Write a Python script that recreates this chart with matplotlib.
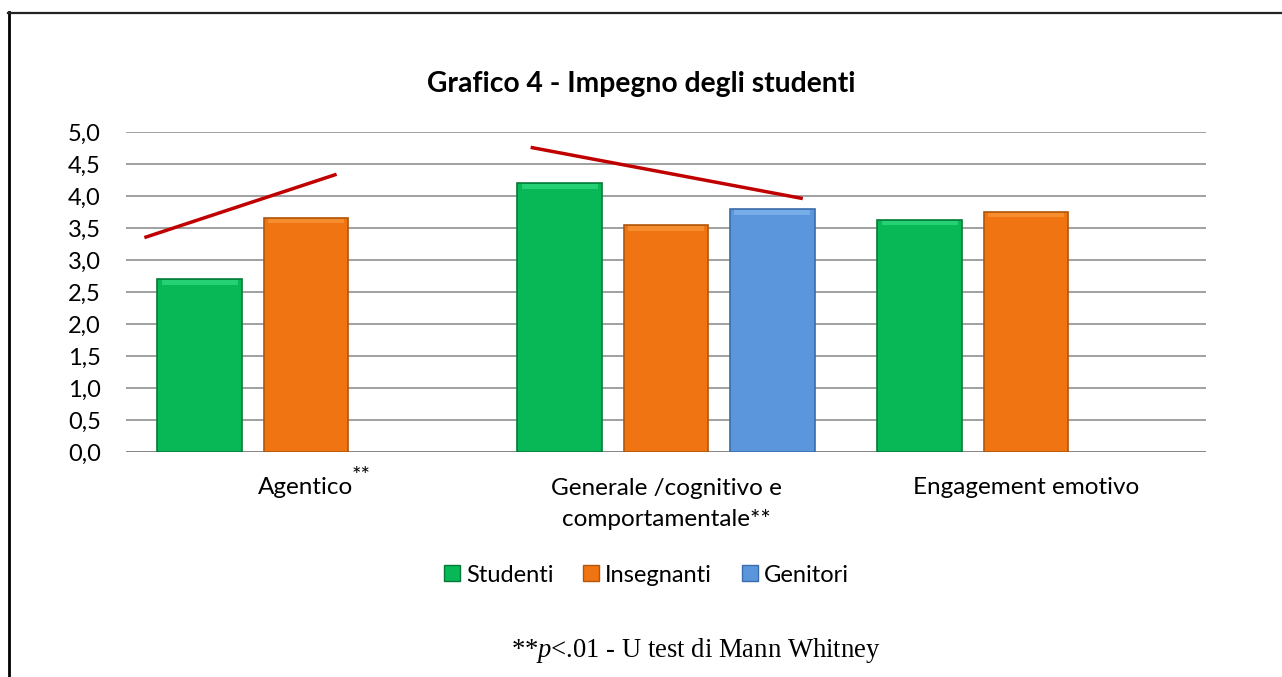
import matplotlib
matplotlib.use('Agg')
import matplotlib.pyplot as plt
import numpy as np
from matplotlib.patches import Patch
from matplotlib.lines import Line2D

# dati
categorie = ['Agentico', 'Generale /cognitivo e\ncomportamentale**', 'Engagement emotivo']
asterischi = ['**', '', '']
serie = ['Studenti', 'Insegnanti', 'Genitori']
studenti = [2.70, 4.20, 3.625]
insegnanti = [3.66, 3.54, 3.755]
genitori = [np.nan, 3.79, np.nan]
tick_y = [0.0, 0.5, 1.0, 1.5, 2.0, 2.5, 3.0, 3.5, 4.0, 4.5, 5.0]
tick_y_lab = ['0,0', '0,5', '1,0', '1,5', '2,0', '2,5', '3,0', '3,5', '4,0', '4,5', '5,0']

# linee rosse disegnate sopra (x in unita' di categoria)
linea1_x = [-0.449, 0.085]
linea1_y = [3.35, 4.34]
linea2_x = [0.624, 1.380]
linea2_y = [4.76, 3.96]

colori = ['#08b856', '#f07512', '#5b96dd']
bordi = ['#057a38', '#b0560b', '#3b6cab']
chiari = ['#3fe690', '#fba448', '#8fc2f2']

plt.rcParams['font.family'] = ['Lato', 'DejaVu Sans']
plt.rcParams['mathtext.fontset'] = 'custom'
plt.rcParams['mathtext.it'] = 'Liberation Serif:italic'
plt.rcParams['mathtext.rm'] = 'Liberation Serif'

fig = plt.figure(figsize=(12.82, 6.77), dpi=100)
ax = fig.add_axes([126/1282, 1 - 452/677, 1080/1282, 320/677])

x = np.arange(len(categorie))
larghezza = 0.236
passo = 0.295
valori = [studenti, insegnanti, genitori]
for i, vals in enumerate(valori):
    pos = x + (i - 1) * passo
    ax.bar(pos, vals, width=larghezza, color=colori[i],
           edgecolor=bordi[i], linewidth=1.2, zorder=3)
    # riflesso chiaro in cima (effetto smussato)
    v = np.array(vals)
    ax.bar(pos, np.full(3, 0.07), bottom=v - 0.085, width=larghezza * 0.9,
           color=chiari[i], alpha=0.55, linewidth=0, zorder=4)

ax.plot(linea1_x, linea1_y, color='#c00000', lw=2.5, zorder=5, solid_capstyle='butt')
ax.plot(linea2_x, linea2_y, color='#c00000', lw=2.5, zorder=5, solid_capstyle='butt')

ax.set_xlim(-0.5, 2.5)
ax.set_ylim(0, 5)
ax.set_yticks(tick_y)
ax.set_yticklabels(tick_y_lab, fontsize=17)
ax.tick_params(axis='y', length=0, pad=18)
ax.set_xticks([])
ax.grid(axis='y', color='#868686', lw=1.1, zorder=0)
ax.set_axisbelow(True)
for s in ax.spines.values():
    s.set_visible(False)
ax.axhline(0, color='#868686', lw=1.3, zorder=2)

# etichette di categoria
for i, cat in enumerate(categorie):
    righe = cat.count('\n')
    t = ax.annotate(cat, xy=(x[i], 0), xycoords=('data', 'axes fraction'),
                    xytext=(0, -30.5 - 23 * righe), textcoords='offset points',
                    ha='center', va='baseline', fontsize=17.5,
                    multialignment='center', linespacing=1.6)
    if asterischi[i]:
        ax.annotate(asterischi[i], xy=(1, 1), xycoords=t, xytext=(-1.5, 8),
                    textcoords='offset points', ha='left', va='top', fontsize=16)

fig.text(0.5, 1 - 92/677, 'Grafico 4 - Impegno degli studenti', ha='center',
         va='baseline', fontsize=20.3, fontweight='bold')

maniglie = [Patch(facecolor=colori[i], edgecolor=bordi[i], label=serie[i]) for i in range(3)]
fig.legend(handles=maniglie, loc='center', bbox_to_anchor=(0.5043, 1 - 575/677), ncol=3,
           frameon=False, fontsize=17, handlelength=0.68, handleheight=0.68,
           handletextpad=0.25, columnspacing=1.25)

fig.text(696/1282, 1 - 657/677, '**$p$<.01 - U test di Mann Whitney', ha='center',
         va='baseline', fontsize=19.2, family='Liberation Serif')

# cornice (solo sinistra e alto)
fig.add_artist(Line2D([8.5/1282, 8.5/1282], [0, 1 - 12/677], color='black', lw=2.0,
                      transform=fig.transFigure))
fig.add_artist(Line2D([8/1282, 1], [1 - 12.5/677, 1 - 12.5/677], color='#222222', lw=1.6,
                      transform=fig.transFigure))

fig.savefig('out.png', dpi=100)
